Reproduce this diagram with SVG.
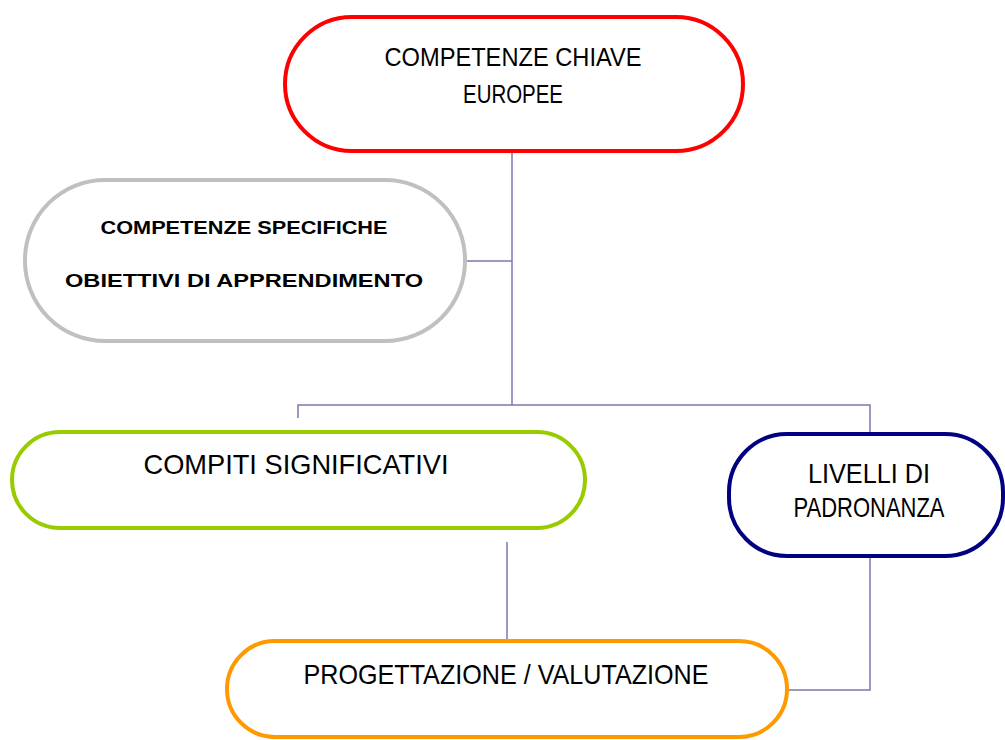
<svg xmlns="http://www.w3.org/2000/svg" width="1005" height="740" viewBox="0 0 1005 740">
<style>
.node{fill:#ffffff;stroke-width:4}
.lbl{font-family:"Liberation Sans",Arial,sans-serif;fill:#000000;text-anchor:middle}
.sm{font-size:19px;font-weight:bold}
.lg{font-size:25px}
.xl{font-size:28px}
.conn{fill:none;stroke:#7878ae;stroke-width:1.5}
</style>
<rect width="1005" height="740" fill="#ffffff"/>
<g id="connectors">
<path class="conn" d="M512,153 V405"/>
<path class="conn" d="M467,261 H512"/>
<path class="conn" d="M298,418 V405 H870 V432"/>
<path class="conn" d="M507,542 V639"/>
<path class="conn" d="M870,558 V690 H788"/>
</g>
<g id="competenze-chiave">
<rect class="node" x="285" y="17" width="458" height="134" rx="67" stroke="#ff0000"/>
<text class="lbl lg" x="513" y="66" textLength="257" lengthAdjust="spacingAndGlyphs">COMPETENZE CHIAVE</text>
<text class="lbl lg" x="513" y="103" textLength="100" lengthAdjust="spacingAndGlyphs">EUROPEE</text>
</g>
<g id="competenze-specifiche">
<rect class="node" x="25" y="180" width="440" height="161" rx="80" stroke="#c0c0c0"/>
<text class="lbl sm" x="244" y="234" textLength="287" lengthAdjust="spacingAndGlyphs">COMPETENZE  SPECIFICHE</text>
<text class="lbl sm" x="244" y="287" textLength="358" lengthAdjust="spacingAndGlyphs">OBIETTIVI  DI  APPRENDIMENTO</text>
</g>
<g id="compiti">
<rect class="node" x="12" y="432" width="573" height="96" rx="48" stroke="#99cc00"/>
<text class="lbl xl" x="296" y="474" textLength="305" lengthAdjust="spacingAndGlyphs">COMPITI SIGNIFICATIVI</text>
</g>
<g id="livelli">
<rect class="node" x="729" y="434" width="274" height="122" rx="58" stroke="#000080"/>
<text class="lbl xl" x="869" y="483" textLength="122" lengthAdjust="spacingAndGlyphs">LIVELLI  DI</text>
<text class="lbl xl" x="869" y="517" textLength="151" lengthAdjust="spacingAndGlyphs">PADRONANZA</text>
</g>
<g id="progettazione">
<rect class="node" x="227" y="641" width="560" height="96" rx="48" stroke="#ff9900"/>
<text class="lbl xl" x="506" y="684" textLength="405" lengthAdjust="spacingAndGlyphs">PROGETTAZIONE / VALUTAZIONE</text>
</g>
</svg>
